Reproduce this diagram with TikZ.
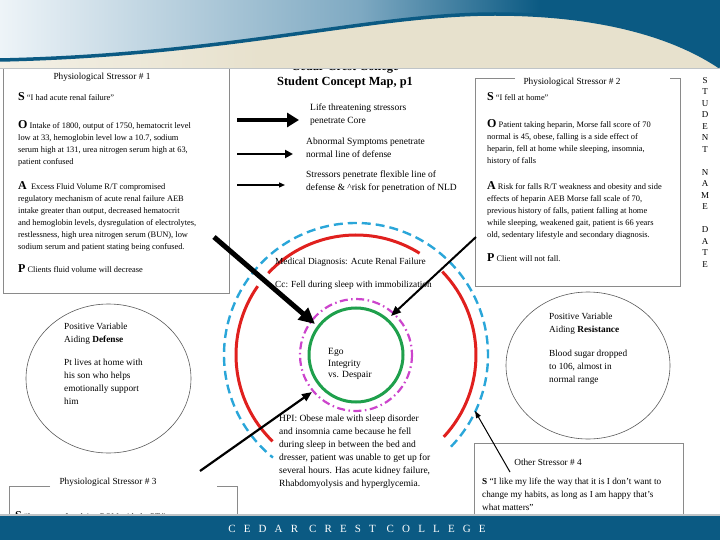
\documentclass[tikz,border=0pt]{standalone}
\usepackage{fontspec}
\setmainfont{Liberation Serif}
\newfontfamily\bannerfont[LetterSpace=74]{Liberation Serif}
\usetikzlibrary{arrows.meta, shapes.geometric}
\definecolor{BoxG}  {HTML}{8A8A8A}
\definecolor{OvalG} {HTML}{5A5A5A}
\definecolor{CoreG} {HTML}{1FA04C}
\definecolor{LineR} {HTML}{E0201E}
\definecolor{FlexB} {HTML}{2AA6D9}
\definecolor{RestM} {HTML}{CC44CC}
\definecolor{SkyL}  {HTML}{EEF4F8}
\definecolor{SkyM}  {HTML}{7EA9C2}
\definecolor{SkyD}  {HTML}{0B5A83}
\definecolor{SandL} {HTML}{F3F0E6}
\definecolor{Sand}  {HTML}{E7E1CD}
\definecolor{EdgeG} {HTML}{BFC4C7}
\tikzset{
  frame/.style={draw=BoxG, line width=0.8pt},
  oval/.style args={#1/#2}{
    ellipse, draw=OvalG, line width=0.6pt,
    minimum width=#1, minimum height=#2, inner sep=0pt,
  },
  txt/.style args={#1/#2}{
    font=\fontsize{#1}{#2}\selectfont,
    align=left, inner sep=0pt, anchor=north west,
  },
  ttl/.style={font=\fontsize{9.3}{11}\selectfont, inner sep=0pt},
  ring/.style args={#1/#2}{draw=#1, line width=#2},
  arr/.style args={#1/#2/#3}{
    -{Triangle[length=#2,width=#3]}, line width=#1,
  },
}
\begin{document}
\begin{tikzpicture}[x=1pt,y=-1pt]
    \useasboundingbox (0,0) rectangle (720,540);
    % stressor boxes
    \draw[frame] (3,60) rectangle (229,293);
    \draw[frame] (515,78) -- (475,78) -- (475,286) -- (680,286) -- (680,78) -- (670,78);
    \draw[frame] (50,486) -- (9,486) -- (9,530);
    \draw[frame] (217,486) -- (237,486) -- (237,530);
    \draw[frame] (474,530) -- (474,443) -- (683,443) -- (683,530);
    \node[ttl] (st1) at (102,77) {Physiological Stressor \# 1};
    \node[ttl] (st2) at (572,82) {Physiological Stressor \# 2};
    \node[ttl] (st3) at (108,482) {Physiological Stressor \# 3};
    \node[ttl] (st4) at (548,462) {Other Stressor \# 4};

    \node[txt=8.4/12] (st1S) at (18,92.5) {{\large\bfseries S} “I had acute renal failure”};
    \node[txt=8.4/12] (st1O) at (18,120.5) {{\large\bfseries O} Intake of 1800, output of 1750, hematocrit level\\
      low at 33, hemoglobin level low a 10.7, sodium\\serum high at 131, urea nitrogen serum high at 63,\\patient confused};
    \node[txt=8.4/12] (st1A) at (18,181.5) {{\large\bfseries A}\enspace Excess Fluid Volume R/T compromised\\
      regulatory mechanism of acute renal failure AEB\\intake greater than output, decreased hematocrit\\
      and hemoglobin levels, dysregulation of electrolytes,\\restlessness, high urea nitrogen serum (BUN), low\\
      sodium serum and patient stating being confused.};
    \node[txt=8.4/12] (st1P) at (18,264.5) {{\large\bfseries P} Clients fluid volume will decrease};

    \node[txt=8.4/12] (st2S) at (487,92.5) {{\large\bfseries S} “I fell at home”};
    \node[txt=8.4/12] (st2O) at (487,119.5) {{\large\bfseries O} Patient taking heparin, Morse fall score of 70\\
      normal is 45, obese, falling is a side effect of\\heparin, fell at home while sleeping, insomnia,\\history of falls};
    \node[txt=8.4/12] (st2A) at (487,181.5) {{\large\bfseries A} Risk for falls R/T weakness and obesity and side\\
      effects of heparin AEB Morse fall scale of 70,\\previous history of falls, patient falling at home\\
      while sleeping, weakened gait, patient is 66 years\\old, sedentary lifestyle and secondary diagnosis.};
    \node[txt=8.4/12] (st2P) at (487,253.5) {{\large\bfseries P} Client will not fall.};

    \node[font=\fontsize{8.4}{12}\selectfont, anchor=base west, inner sep=0pt] (st3S) at (15,519)
      {{\large\bfseries S} “I am sore after doing ROM with the PT.”};
    \node[txt=9.2/13] (st4S) at (482,478) {\textbf{S} “I like my life the way that it is I don't want to\\
      change my habits, as long as I am happy that's\\what matters”};

    % title and legend
    \node[font=\fontsize{12.4}{14}\selectfont\bfseries, anchor=base] (college) at (345,71) {Cedar Crest College};
    \node[font=\fontsize{12.4}{14}\selectfont\bfseries] (mapTitle) at (345,83) {Student Concept Map, p1};
    \foreach \nm/\lw/\hl/\hw/\xe/\y in {lgCore/4.5/12/14/299/120, lgNld/2.5/8/8/293/154, lgFlx/1.2/6/5/285/185}{
      \coordinate (\nm A) at (237,\y);
      \coordinate (\nm B) at (\xe,\y);
      \draw[-{Triangle[length=\hl pt,width=\hw pt]}, line width=\lw pt] (\nm A) -- (\nm B);
    }
    \node[txt=9.5/13] (lgCoreT) at (310,104) {Life threatening stressors\\penetrate Core};
    \node[txt=9.5/13] (lgNldT) at (306,138) {Abnormal Symptoms penetrate\\normal line of defense};
    \node[txt=9.5/13] (lgFlxT) at (306,171) {Stressors penetrate flexible line of\\defense \& \textasciicircum risk for penetration of NLD};
    \node[font=\fontsize{9}{11.5}\selectfont, align=center, inner sep=0pt, anchor=north] (stuName) at (705,77)
      {S\\T\\U\\D\\E\\N\\T\\[11.5pt]N\\A\\M\\E\\[11.5pt]D\\A\\T\\E};

    % positive variables
    \node[oval=165pt/149pt] (posDef) at (108.5,378.5) {};
    \node[oval=164pt/147pt] (posRes) at (588,365.5) {};
    \node[txt=9.3/13] (posDefT) at (64,323) {Positive Variable\\Aiding \textbf{Defense}\\[10pt]Pt lives at home with\\
      his son who helps\\emotionally support\\him};
    \node[txt=9.3/13] (posResT) at (549,313) {Positive Variable\\Aiding \textbf{Resistance}\\[11pt]Blood sugar dropped\\
      to 106, almost in\\normal range};

    % lines of defense
    \coordinate (ego) at (356,355);
    \draw[ring=FlexB/2.4pt, dash pattern=on 9pt off 5pt] (ego) ++(-316:132) arc[start angle=-316, end angle=-591, radius=132];
    \foreach \a/\b in {58/137, 145/226, 317/404}{
      \draw[ring=LineR/3pt] (ego) ++(-\a:120) arc[start angle=-\a, end angle=-\b, radius=120];
    }
    \draw[ring=RestM/2.2pt, dash pattern=on 8pt off 3.5pt on 1.5pt off 3.5pt] (ego) circle[radius=56];
    \draw[ring=CoreG/3pt] (ego) circle[radius=47];
    \node[txt=9.5/11.6] (egoT) at (328,348) {Ego\\Integrity\\vs. Despair};
    \node[txt=9.3/13] (medDx) at (275,258) {Medical Diagnosis: Acute Renal Failure\\[9.6pt]Cc: Fell during sleep with immobilization};
    \node[txt=9.5/12.9] (hpi) at (279,415) {HPI: Obese male with sleep disorder\\and insomnia came because he fell\\
      during sleep in between the bed and\\dresser, patient was unable to get up for\\several hours. Has acute kidney failure,\\
      Rhabdomyolysis and hyperglycemia.};

    % stressor arrows
    \coordinate (coreS) at (214,237);
    \coordinate (coreT) at (315,324);
    \draw[arr=5pt/16pt/15pt] (coreS) -- (coreT);
    \coordinate (nldS) at (476,237);
    \coordinate (nldT) at (391,316);
    \draw[arr=2pt/10pt/8pt] (nldS) -- (nldT);
    \coordinate (nldU) at (200,471);
    \coordinate (nldV) at (312,392);
    \draw[arr=2.2pt/10pt/8pt] (nldU) -- (nldV);
    \coordinate (flxS) at (510,472);
    \coordinate (flxT) at (475,411);
    \draw[arr=1pt/7pt/5pt] (flxS) -- (flxT);

    % banners
    \fill[Sand] (0,0) rectangle (720,68);
    \shade[left color=SandL, right color=Sand] (0,30) rectangle (260,68);
    \begin{scope}
      \clip (0,0) -- (720,0) -- (720,67) .. controls (680,40) and (610,14) .. (495,14)
        .. controls (370,14) and (230,55) .. (0,60) -- cycle;
      \shade[left color=SkyL, right color=SkyM] (0,0) rectangle (360,70);
      \shade[left color=SkyM, right color=SkyD] (360,0) rectangle (540,70);
      \fill[SkyD] (540,0) rectangle (720,70);
    \end{scope}
    \draw[SkyD, line width=3.5pt] (720,67) .. controls (680,40) and (610,14) .. (495,14)
      .. controls (370,14) and (230,55) .. (0,60);
    \draw[EdgeG, line width=1.5pt] (0,68.5) -- (720,68.5);
    \fill[SkyD] (0,515) rectangle (720,540);
    \draw[EdgeG, line width=1.5pt] (0,515) -- (720,515);
    \node[font=\bannerfont\fontsize{11}{12}\selectfont, text=white] (ccc) at (357,529) {CEDAR CREST COLLEGE};
\end{tikzpicture}
\end{document}
